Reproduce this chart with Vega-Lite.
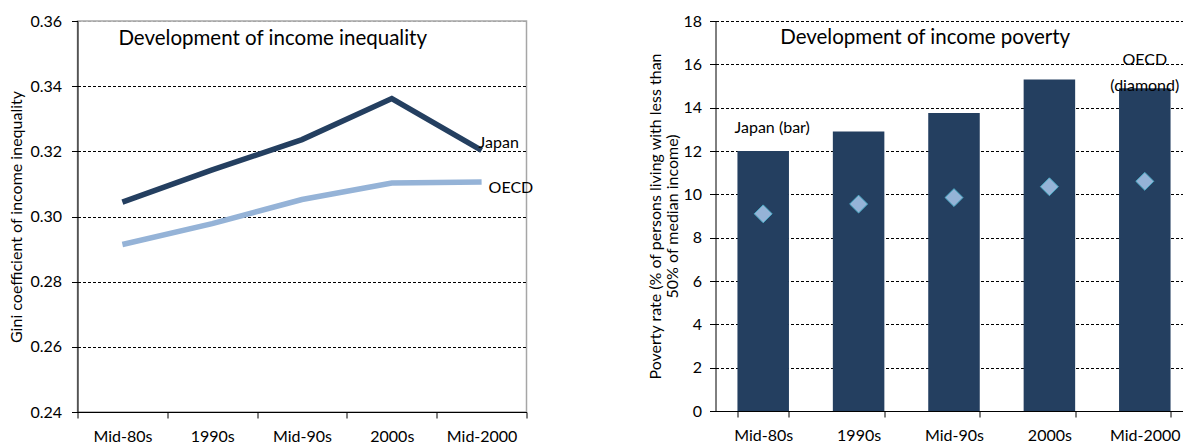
{
  "$schema": "https://vega.github.io/schema/vega-lite/v6.json",
  "padding": {"left": 7.5, "top": 12, "right": 0, "bottom": 0},
  "spacing": 189,
  "bounds": "flush",
  "config": {
    "font": "Lato",
    "view": {"stroke": null},
    "axis": {
      "labelFont": "Lato", "titleFont": "Lato", "labelFontSize": 16, "titleFontSize": 16,
      "labelColor": "#000", "titleColor": "#000", "titleFontWeight": "normal",
      "domainColor": "#000", "tickColor": "#000", "tickSize": 6
    }
  },
  "datasets": {
    "gini": [
      {"period": "Mid-80s", "series": "Japan", "value": 0.3044},
      {"period": "1990s", "series": "Japan", "value": 0.3143},
      {"period": "Mid-90s", "series": "Japan", "value": 0.3236},
      {"period": "2000s", "series": "Japan", "value": 0.3362},
      {"period": "Mid-2000", "series": "Japan", "value": 0.3203},
      {"period": "Mid-80s", "series": "OECD", "value": 0.2914},
      {"period": "1990s", "series": "OECD", "value": 0.2978},
      {"period": "Mid-90s", "series": "OECD", "value": 0.3052},
      {"period": "2000s", "series": "OECD", "value": 0.3103},
      {"period": "Mid-2000", "series": "OECD", "value": 0.3106}
    ],
    "poverty": [
      {"period": "Mid-80s", "japan": 12.0, "oecd": 9.1},
      {"period": "1990s", "japan": 12.9, "oecd": 9.55},
      {"period": "Mid-90s", "japan": 13.75, "oecd": 9.85},
      {"period": "2000s", "japan": 15.3, "oecd": 10.35},
      {"period": "Mid-2000", "japan": 14.9, "oecd": 10.6}
    ]
  },
  "hconcat": [
    {
      "width": 449,
      "height": 391,
      "view": {"stroke": "#a6a6a6", "strokeWidth": 1.5},
      "encoding": {
        "x": {"field": "period", "type": "nominal", "sort": ["Mid-80s", "1990s", "Mid-90s", "2000s", "Mid-2000"],
              "scale": {"paddingInner": 0, "paddingOuter": 0},
              "axis": {"title": null, "labelAngle": 0, "tickBand": "extent", "labelPadding": 10, "grid": false}},
        "y": {"field": "value", "type": "quantitative",
              "scale": {"domain": [0.24, 0.36], "nice": false, "zero": false},
              "axis": {"title": "Gini coefficient of income inequality", "values": [0.24, 0.26, 0.28, 0.30, 0.32, 0.34, 0.36],
                       "format": ".2f", "labelPadding": 10, "titlePadding": 5.5,
                       "grid": true, "gridColor": {"condition": {"test": "datum.value >= 0.359", "value": "#a6a6a6"}, "value": "#000"},
                       "gridDash": [3, 2], "gridWidth": 1}}
      },
      "layer": [
        {
          "data": {"name": "gini"},
          "mark": {"type": "line", "strokeWidth": 5.5},
          "encoding": {
            "color": {"field": "series", "type": "nominal", "scale": {"domain": ["Japan", "OECD"], "range": ["#243F60", "#95B3D7"]}, "legend": null}
          }
        },
        {
          "data": {"values": [{"period": "Mid-2000", "value": 0.3203, "label": "Japan"}]},
          "mark": {"type": "text", "align": "left", "baseline": "middle", "fontSize": 16, "color": "#000", "dx": -3, "dy": -7},
          "encoding": {"text": {"field": "label"}}
        },
        {
          "data": {"values": [{"period": "Mid-2000", "value": 0.3106, "label": "OECD"}]},
          "mark": {"type": "text", "align": "left", "baseline": "middle", "fontSize": 16, "color": "#000", "dx": 7, "dy": 6},
          "encoding": {"text": {"field": "label"}}
        },
        {
          "data": {"values": [{"period": "Mid-80s", "value": 0.3545, "label": "Development of income inequality"}]},
          "mark": {"type": "text", "align": "left", "baseline": "middle", "fontSize": 20.5, "color": "#000", "dx": -4},
          "encoding": {"text": {"field": "label"}}
        }
      ]
    },
    {
      "width": 477,
      "height": 390,
      "data": {"name": "poverty"},
      "encoding": {
        "x": {"field": "period", "type": "nominal", "sort": ["Mid-80s", "1990s", "Mid-90s", "2000s", "Mid-2000"],
              "scale": {"paddingInner": 0.46, "paddingOuter": 0.23},
              "axis": {"title": null, "labelAngle": 0, "tickBand": "extent", "labelPadding": 10, "grid": false}}
      },
      "layer": [
        {
          "mark": {"type": "bar", "color": "#243F60"},
          "encoding": {
            "y": {"field": "japan", "type": "quantitative",
                  "scale": {"domain": [0, 18], "nice": false},
                  "axis": {"title": ["Poverty rate  (% of persons living with less than", "50% of median income)"],
                           "values": [0, 2, 4, 6, 8, 10, 12, 14, 16, 18], "titleLineHeight": 17,
                           "labelPadding": 8, "titlePadding": 2, "grid": true, "gridColor": "#000", "gridDash": [3, 2], "gridWidth": 1}}
          }
        },
        {
          "mark": {"type": "point", "shape": "diamond", "filled": true, "size": 320, "color": "#95B3D7", "stroke": "#4BACC6", "strokeWidth": 1, "opacity": 1},
          "encoding": {"y": {"field": "oecd", "type": "quantitative"}}
        },
        {
          "data": {"values": [{"period": "Mid-80s", "v": 13.05, "label": "Japan (bar)"}]},
          "mark": {"type": "text", "align": "center", "baseline": "middle", "fontSize": 16, "color": "#000", "dx": 9},
          "encoding": {"y": {"field": "v", "type": "quantitative"}, "text": {"field": "label"}}
        },
        {
          "data": {"values": [
            {"period": "Mid-2000", "v": 16.2, "label": "OECD"},
            {"period": "Mid-2000", "v": 15.0, "label": "(diamond)"}
          ]},
          "mark": {"type": "text", "align": "center", "baseline": "middle", "fontSize": 16, "color": "#000"},
          "encoding": {"y": {"field": "v", "type": "quantitative"}, "text": {"field": "label"}}
        },
        {
          "data": {"values": [{"period": "Mid-80s", "v": 17.2, "label": "Development of income poverty"}]},
          "mark": {"type": "text", "align": "left", "baseline": "middle", "fontSize": 20.5, "color": "#000", "dx": 17},
          "encoding": {"y": {"field": "v", "type": "quantitative"}, "text": {"field": "label"}}
        }
      ]
    }
  ]
}
